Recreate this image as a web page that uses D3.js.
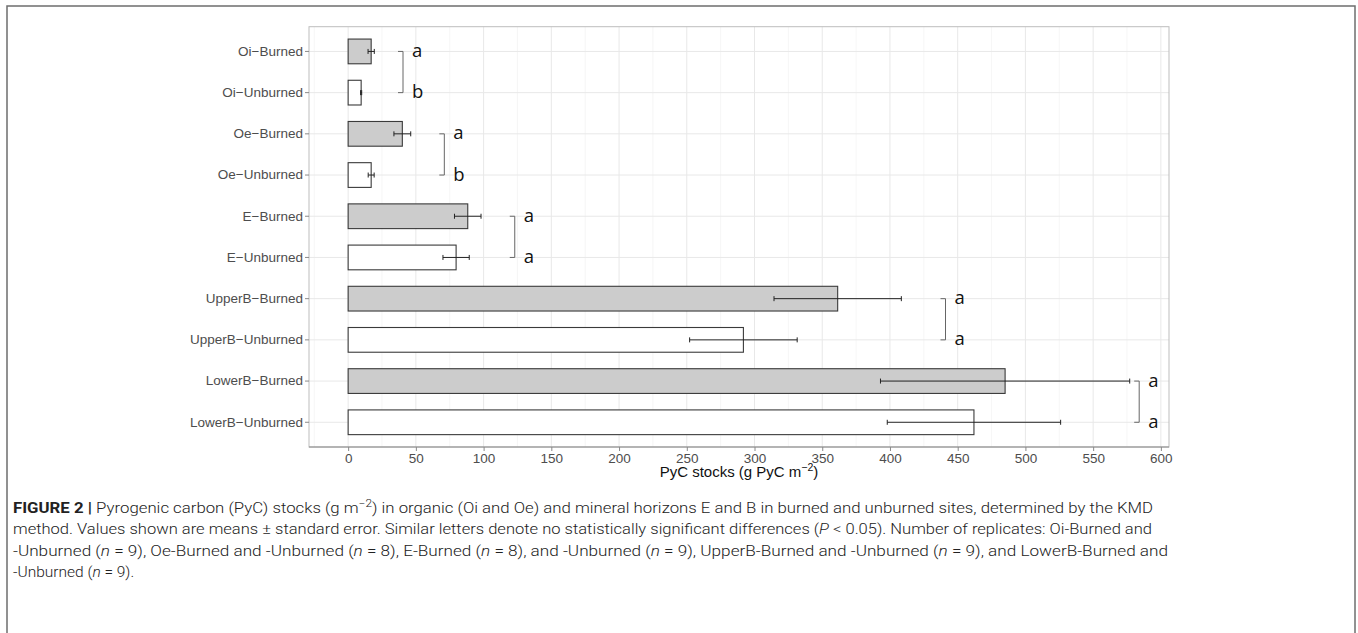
<!DOCTYPE html>
<html>
<head>
<meta charset="utf-8">
<script src="https://cdn.jsdelivr.net/npm/d3@7"></script>
<style>
    body { margin: 0; background: #fff; overflow: hidden; }
</style>
</head>
<body>
<script>
// the data
const categories = ["Oi−Burned", "Oi−Unburned", "Oe−Burned", "Oe−Unburned", "E−Burned",
    "E−Unburned", "UpperB−Burned", "UpperB−Unburned", "LowerB−Burned", "LowerB−Unburned"];
const means = [17, 9.6, 40, 17, 88.3, 79.7, 361.4, 291.8, 485, 462];
const stdErrors = [2.3, 0.4, 6.2, 2.2, 9.8, 9.7, 47, 39.7, 92, 64];
const burned = [true, false, true, false, true, false, true, false, true, false];

// significance brackets, one per horizon (x in data units)
const horizons = ["Oi", "Oe", "E", "UpperB", "LowerB"];
const bracketX = [40.5, 71, 123, 441, 584];
const letters = [["a", "b"], ["a", "b"], ["a", "a"], ["a", "a"], ["a", "a"]];

const xTicks = [0, 50, 100, 150, 200, 250, 300, 350, 400, 450, 500, 550, 600];
const xMinor = [-25, 25, 75, 125, 175, 225, 275, 325, 375, 425, 475, 525, 575];

const width = 1358, height = 633;
const panel = {left: 309, right: 1169, top: 26.7, bottom: 447};

const svg = d3.select("body").append("svg")
    .attr("width", width)
    .attr("height", height);

// outer figure frame
svg.append("rect")
    .attr("x", 7).attr("y", 6)
    .attr("width", 1348).attr("height", 660)
    .attr("fill", "none")
    .attr("stroke", "#6e6e6e")
    .attr("stroke-width", 1.5);

const x = d3.scaleLinear()
    .domain([-28.9, 606])
    .range([panel.left, panel.right]);

const y = d3.scaleBand()
    .domain(categories)
    .range([panel.top, panel.bottom])
    .paddingInner(0.4)
    .paddingOuter(0.3);

const yc = d => y(d) + y.bandwidth() / 2;

//////////// GRID ////////////
const grid = svg.append("g");
grid.selectAll(".minor")
    .data(xMinor)
    .join("line")
    .attr("x1", d => x(d)).attr("x2", d => x(d))
    .attr("y1", panel.top).attr("y2", panel.bottom)
    .attr("stroke", "#f0f0f0")
    .attr("stroke-width", 0.6);
grid.selectAll(".major")
    .data(xTicks)
    .join("line")
    .attr("x1", d => x(d)).attr("x2", d => x(d))
    .attr("y1", panel.top).attr("y2", panel.bottom)
    .attr("stroke", "#e8e8e8")
    .attr("stroke-width", 1);
grid.selectAll(".hmajor")
    .data(categories)
    .join("line")
    .attr("x1", panel.left).attr("x2", panel.right)
    .attr("y1", d => yc(d)).attr("y2", d => yc(d))
    .attr("stroke", "#e8e8e8")
    .attr("stroke-width", 1);

//////////// BARS ////////////
svg.append("g")
    .selectAll("rect")
    .data(categories)
    .join("rect")
    .attr("x", x(0))
    .attr("y", d => y(d))
    .attr("width", (d, i) => x(means[i]) - x(0))
    .attr("height", y.bandwidth())
    .attr("fill", (d, i) => burned[i] ? "#cccccc" : "#ffffff")
    .attr("stroke", "#3a3a3a")
    .attr("stroke-width", 1.1);

// error bars
const err = svg.append("g")
    .attr("stroke", "#222")
    .attr("stroke-width", 1);
err.selectAll(".bar")
    .data(categories)
    .join("line")
    .attr("x1", (d, i) => x(means[i] - stdErrors[i]))
    .attr("x2", (d, i) => x(means[i] + stdErrors[i]))
    .attr("y1", d => yc(d)).attr("y2", d => yc(d));
err.selectAll(".capl")
    .data(categories)
    .join("line")
    .attr("x1", (d, i) => x(means[i] - stdErrors[i]))
    .attr("x2", (d, i) => x(means[i] - stdErrors[i]))
    .attr("y1", d => yc(d) - 2.5).attr("y2", d => yc(d) + 2.5);
err.selectAll(".capr")
    .data(categories)
    .join("line")
    .attr("x1", (d, i) => x(means[i] + stdErrors[i]))
    .attr("x2", (d, i) => x(means[i] + stdErrors[i]))
    .attr("y1", d => yc(d) - 2.5).attr("y2", d => yc(d) + 2.5);

//////////// BRACKETS ////////////
const br = svg.append("g");
horizons.forEach((h, i) => {
    const y1 = yc(categories[i * 2]);
    const y2 = yc(categories[i * 2 + 1]);
    const bx = x(bracketX[i]);
    br.append("path")
        .attr("d", `M${bx - 5},${y1}H${bx}V${y2}H${bx - 5}`)
        .attr("fill", "none")
        .attr("stroke", "#666")
        .attr("stroke-width", 1);
    [y1, y2].forEach((yy, k) => {
        br.append("text")
            .attr("x", bx + 9)
            .attr("y", yy)
            .attr("dy", "0.3em")
            .style("font-family", '"Open Sans", sans-serif')
            .style("font-size", "18.5px")
            .attr("fill", "#111")
            .text(letters[i][k]);
    });
});

//////////// PANEL + AXES ////////////
svg.append("rect")
    .attr("x", panel.left).attr("y", panel.top)
    .attr("width", panel.right - panel.left)
    .attr("height", panel.bottom - panel.top)
    .attr("fill", "none")
    .attr("stroke", "#bdbdbd")
    .attr("stroke-width", 1);
svg.append("line")
    .attr("x1", panel.left).attr("x2", panel.right)
    .attr("y1", panel.bottom).attr("y2", panel.bottom)
    .attr("stroke", "#8a8a8a");

const xAxis = svg.append("g")
    .attr("transform", `translate(0,${panel.bottom})`)
    .call(d3.axisBottom(x).tickValues(xTicks).tickSize(4).tickPadding(2));
xAxis.select(".domain").remove();
xAxis.selectAll("line").attr("stroke", "#8a8a8a");
xAxis.selectAll("text")
    .attr("fill", "#4d4d4d")
    .style("font-family", '"Liberation Sans", Arial, sans-serif')
    .style("font-size", "13.5px");

const yAxis = svg.append("g")
    .attr("transform", `translate(${panel.left},0)`)
    .call(d3.axisLeft(y).tickSize(4).tickPadding(2));
yAxis.select(".domain").remove();
yAxis.selectAll("line").attr("stroke", "#8a8a8a");
yAxis.selectAll("text")
    .attr("fill", "#4d4d4d")
    .style("font-family", '"Liberation Sans", Arial, sans-serif')
    .style("font-size", "13.5px");

// x axis title
const xTitle = svg.append("text")
    .attr("x", (panel.left + panel.right) / 2)
    .attr("y", 477)
    .attr("text-anchor", "middle")
    .style("font-family", '"Liberation Sans", Arial, sans-serif')
    .style("font-size", "15px")
    .attr("fill", "#111");
xTitle.append("tspan").text("PyC stocks (g PyC m");
xTitle.append("tspan").attr("dy", -6).style("font-size", "10.5px").text("−2");
xTitle.append("tspan").attr("dy", 6).text(")");

//////////// CAPTION ////////////
const captionLines = [
    [["b", "FIGURE 2 | "], ["", "Pyrogenic carbon (PyC) stocks (g m"], ["sup", "−2"], ["", ") in organic (Oi and Oe) and mineral horizons E and B in burned and unburned sites, determined by the KMD"]],
    [["", "method. Values shown are means ± standard error. Similar letters denote no statistically significant differences ("], ["i", "P"], ["", " < 0.05). Number of replicates: Oi-Burned and"]],
    [["", "-Unburned ("], ["i", "n"], ["", " = 9), Oe-Burned and -Unburned ("], ["i", "n"], ["", " = 8), E-Burned ("], ["i", "n"], ["", " = 8), and -Unburned ("], ["i", "n"], ["", " = 9), UpperB-Burned and -Unburned ("], ["i", "n"], ["", " = 9), and LowerB-Burned and"]],
    [["", "-Unburned ("], ["i", "n"], ["", " = 9)."]]
];
const captionWidths = [1140, 1139, 1155, null];

captionLines.forEach((parts, li) => {
    const t = svg.append("text")
        .attr("x", 13)
        .attr("y", 513 + li * 21.3)
        .style("font-family", 'Roboto, sans-serif')
        .style("font-weight", 300)
        .style("font-size", "15.5px")
        .attr("fill", "#222");
    parts.forEach(([kind, str]) => {
        const s = t.append("tspan").text(str);
        if (kind === "b") s.style("font-weight", 700);
        if (kind === "i") s.style("font-style", "italic");
        if (kind === "sup") s.attr("dy", -6).style("font-size", "11px");
        else if (li === 0 && str.startsWith(")")) s.attr("dy", 6);
    });
    if (captionWidths[li]) {
        t.attr("textLength", captionWidths[li]).attr("lengthAdjust", "spacingAndGlyphs");
    }
});
</script>
</body>
</html>
